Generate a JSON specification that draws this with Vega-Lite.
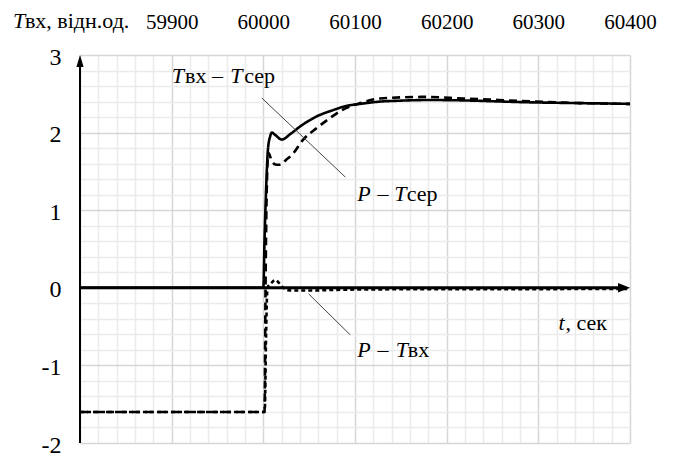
{
  "$schema": "https://vega.github.io/schema/vega-lite/v6.json",
  "width": 550,
  "height": 388,
  "autosize": {"type": "none"},
  "padding": {"left": 80, "top": 55, "right": 45, "bottom": 16},
  "background": "#ffffff",
  "config": {"view": {"stroke": null}, "font": "Liberation Serif"},
  "datasets": {
    "curves": [
      {"s": "Tвх – Tсер", "t": 59800, "v": 0},
      {"s": "Tвх – Tсер", "t": 60000, "v": 0},
      {"s": "Tвх – Tсер", "t": 60001.3, "v": 0.62},
      {"s": "Tвх – Tсер", "t": 60003, "v": 1.26},
      {"s": "Tвх – Tсер", "t": 60005, "v": 1.78},
      {"s": "Tвх – Tсер", "t": 60007.4, "v": 1.95},
      {"s": "Tвх – Tсер", "t": 60009.3, "v": 2.0},
      {"s": "Tвх – Tсер", "t": 60012.9, "v": 1.97},
      {"s": "Tвх – Tсер", "t": 60020.2, "v": 1.91},
      {"s": "Tвх – Tсер", "t": 60029.3, "v": 1.98},
      {"s": "Tвх – Tсер", "t": 60040.2, "v": 2.08},
      {"s": "Tвх – Tсер", "t": 60058.4, "v": 2.21},
      {"s": "Tвх – Tсер", "t": 60076.2, "v": 2.29},
      {"s": "Tвх – Tсер", "t": 60089.3, "v": 2.34},
      {"s": "Tвх – Tсер", "t": 60105.7, "v": 2.37},
      {"s": "Tвх – Tсер", "t": 60127.6, "v": 2.4},
      {"s": "Tвх – Tсер", "t": 60146, "v": 2.41},
      {"s": "Tвх – Tсер", "t": 60182, "v": 2.42},
      {"s": "Tвх – Tсер", "t": 60218, "v": 2.415},
      {"s": "Tвх – Tсер", "t": 60260, "v": 2.4},
      {"s": "Tвх – Tсер", "t": 60291, "v": 2.39},
      {"s": "Tвх – Tсер", "t": 60346, "v": 2.38},
      {"s": "Tвх – Tсер", "t": 60400, "v": 2.37},

      {"s": "P – Tсер", "t": 59800, "v": -1.6},
      {"s": "P – Tсер", "t": 60001.3, "v": -1.6},
      {"s": "P – Tсер", "t": 60002.4, "v": 0},
      {"s": "P – Tсер", "t": 60003.5, "v": 1.13},
      {"s": "P – Tсер", "t": 60005.5, "v": 1.74},
      {"s": "P – Tсер", "t": 60009, "v": 1.64},
      {"s": "P – Tсер", "t": 60013, "v": 1.59},
      {"s": "P – Tсер", "t": 60018.4, "v": 1.585},
      {"s": "P – Tсер", "t": 60025, "v": 1.65},
      {"s": "P – Tсер", "t": 60031, "v": 1.71},
      {"s": "P – Tсер", "t": 60043.5, "v": 1.91},
      {"s": "P – Tсер", "t": 60058.4, "v": 2.06},
      {"s": "P – Tсер", "t": 60073, "v": 2.19},
      {"s": "P – Tсер", "t": 60085.7, "v": 2.29},
      {"s": "P – Tсер", "t": 60105.7, "v": 2.38},
      {"s": "P – Tсер", "t": 60127.6, "v": 2.44},
      {"s": "P – Tсер", "t": 60174.5, "v": 2.46},
      {"s": "P – Tсер", "t": 60218, "v": 2.44},
      {"s": "P – Tсер", "t": 60277, "v": 2.41},
      {"s": "P – Tсер", "t": 60346, "v": 2.38},
      {"s": "P – Tсер", "t": 60400, "v": 2.37},

      {"s": "P – Tвх", "t": 59800, "v": -1.6},
      {"s": "P – Tвх", "t": 60001.5, "v": -1.6},
      {"s": "P – Tвх", "t": 60003, "v": -0.6},
      {"s": "P – Tвх", "t": 60004.5, "v": 0},
      {"s": "P – Tвх", "t": 60008.6, "v": 0.06},
      {"s": "P – Tвх", "t": 60012.9, "v": 0.1},
      {"s": "P – Tвх", "t": 60017.3, "v": 0.06},
      {"s": "P – Tвх", "t": 60021.7, "v": 0},
      {"s": "P – Tвх", "t": 60027, "v": -0.03},
      {"s": "P – Tвх", "t": 60032.6, "v": -0.035},
      {"s": "P – Tвх", "t": 60051, "v": -0.035},
      {"s": "P – Tвх", "t": 60084, "v": -0.025},
      {"s": "P – Tвх", "t": 60127, "v": -0.02},
      {"s": "P – Tвх", "t": 60200, "v": -0.018},
      {"s": "P – Tвх", "t": 60400, "v": -0.016}
    ],
    "leaders": [
      {"t": 59998.4, "v": 2.445, "t2": 60089.4, "v2": 1.427},
      {"t": 60049.3, "v": -0.077, "t2": 60094.8, "v2": -0.606}
    ],
    "italicText": [
      {"t": 59900.1, "v": 2.638, "text": "T"},
      {"t": 59963.8, "v": 2.638, "text": "T"},
      {"t": 60102.5, "v": 1.121, "text": "P"},
      {"t": 60142.9, "v": 1.121, "text": "T"},
      {"t": 60102.5, "v": -0.893, "text": "P"},
      {"t": 60144.5, "v": -0.893, "text": "T"},
      {"t": 60321.9, "v": -0.541, "text": "t"}
    ],
    "uprightText": [
      {"t": 59914.6, "v": 2.638, "text": "вх –"},
      {"t": 59979.1, "v": 2.638, "text": "сер"},
      {"t": 60124.5, "v": 1.121, "text": "–"},
      {"t": 60156.5, "v": 1.121, "text": "сер"},
      {"t": 60124.5, "v": -0.893, "text": "–"},
      {"t": 60157.6, "v": -0.893, "text": "вх"},
      {"t": 60329.6, "v": -0.541, "text": ", сек"}
    ],
    "headerItalic": [{"t": 59726.8, "v": 3.351, "text": "T"}],
    "headerUpright": [{"t": 59739.9, "v": 3.351, "text": "вх, відн.од."}]
  },
  "layer": [
    {
      "data": {"name": "curves"},
      "mark": {"type": "line", "interpolate": "monotone", "strokeWidth": 2.6, "color": "#000000", "strokeCap": "butt"},
      "encoding": {
        "x": {
          "field": "t", "type": "quantitative",
          "scale": {"domain": [59800, 60400], "nice": false, "zero": false},
          "axis": {
            "orient": "top",
            "values": [59800, 59820, 59840, 59860, 59880, 59900, 59920, 59940, 59960, 59980, 60000, 60020, 60040, 60060, 60080, 60100, 60120, 60140, 60160, 60180, 60200, 60220, 60240, 60260, 60280, 60300, 60320, 60340, 60360, 60380, 60400],
            "tickCount": 200,
            "grid": true,
            "gridColor": {"condition": {"test": "datum.value % 100 === 0", "value": "#d6d6d6"}, "value": "#ebebeb"},
            "gridWidth": 1.5,
            "domain": false,
            "ticks": false,
            "tickSize": 0,
            "labelExpr": "datum.value % 100 === 0 && datum.value > 59800 ? toString(datum.value) : ''",
            "labelFont": "Liberation Serif",
            "labelFontSize": 21,
            "labelColor": "#000000",
            "labelPadding": 27,
            "labelBaseline": "alphabetic",
            "labelFlush": false,
            "labelOverlap": false,
            "title": null
          }
        },
        "y": {
          "field": "v", "type": "quantitative",
          "scale": {"domain": [-2, 3], "nice": false, "zero": false},
          "axis": {
            "values": [-2, -1.8, -1.6, -1.4, -1.2, -1, -0.8, -0.6, -0.4, -0.2, 0, 0.2, 0.4, 0.6, 0.8, 1, 1.2, 1.4, 1.6, 1.8, 2, 2.2, 2.4, 2.6, 2.8, 3],
            "tickCount": 200,
            "grid": true,
            "gridColor": {"condition": {"test": "abs(datum.value - round(datum.value)) < 0.001", "value": "#d6d6d6"}, "value": "#ebebeb"},
            "gridWidth": 1.5,
            "domain": false,
            "ticks": false,
            "tickSize": 0,
            "labelExpr": "abs(datum.value - round(datum.value)) < 0.001 ? toString(round(datum.value)) : ''",
            "labelFont": "Liberation Serif",
            "labelFontSize": 24,
            "labelColor": "#000000",
            "labelPadding": 19,
            "labelOffset": 2,
            "labelFlush": false,
            "labelOverlap": false,
            "title": null
          }
        },
        "strokeDash": {
          "field": "s", "type": "nominal",
          "scale": {"domain": ["Tвх – Tсер", "P – Tсер", "P – Tвх"], "range": [[1, 0], [8, 5], [4, 3]]},
          "legend": null
        }
      }
    },
    {
      "data": {"values": [{}]},
      "mark": {"type": "rule", "color": "#000000", "strokeWidth": 3},
      "encoding": {"y": {"datum": 0}, "x": {"datum": 59800}, "x2": {"datum": 60392}}
    },
    {
      "data": {"values": [{}]},
      "mark": {"type": "rule", "color": "#000000", "strokeWidth": 2},
      "encoding": {"x": {"datum": 59800}, "y": {"datum": -2}, "y2": {"datum": 2.95}}
    },
    {
      "data": {"values": [{}]},
      "mark": {"type": "point", "shape": "M0,0 L-1,-0.4 L-1,0.4 Z", "size": 576, "filled": true, "color": "#000000", "opacity": 1, "strokeWidth": 0},
      "encoding": {"x": {"datum": 60400}, "y": {"datum": 0}}
    },
    {
      "data": {"values": [{}]},
      "mark": {"type": "point", "shape": "M0,0 L-0.3,1 L0.3,1 Z", "size": 576, "filled": true, "color": "#000000", "opacity": 1, "strokeWidth": 0},
      "encoding": {"x": {"datum": 59800}, "y": {"datum": 3}}
    },
    {
      "data": {"name": "leaders"},
      "mark": {"type": "rule", "color": "#444444", "strokeWidth": 1},
      "encoding": {
        "x": {"field": "t", "type": "quantitative"},
        "y": {"field": "v", "type": "quantitative"},
        "x2": {"field": "t2"},
        "y2": {"field": "v2"}
      }
    },
    {
      "data": {"name": "italicText"},
      "mark": {"type": "text", "font": "Liberation Serif", "fontSize": 22, "fontStyle": "italic", "align": "left", "baseline": "alphabetic", "color": "#000000"},
      "encoding": {
        "x": {"field": "t", "type": "quantitative"},
        "y": {"field": "v", "type": "quantitative"},
        "text": {"field": "text"}
      }
    },
    {
      "data": {"name": "uprightText"},
      "mark": {"type": "text", "font": "Liberation Serif", "fontSize": 22, "align": "left", "baseline": "alphabetic", "color": "#000000"},
      "encoding": {
        "x": {"field": "t", "type": "quantitative"},
        "y": {"field": "v", "type": "quantitative"},
        "text": {"field": "text"}
      }
    },
    {
      "data": {"name": "headerItalic"},
      "mark": {"type": "text", "font": "Liberation Serif", "fontSize": 22, "fontStyle": "italic", "align": "left", "baseline": "alphabetic", "color": "#000000"},
      "encoding": {
        "x": {"field": "t", "type": "quantitative"},
        "y": {"field": "v", "type": "quantitative"},
        "text": {"field": "text"}
      }
    },
    {
      "data": {"name": "headerUpright"},
      "mark": {"type": "text", "font": "Liberation Serif", "fontSize": 22, "align": "left", "baseline": "alphabetic", "color": "#000000"},
      "encoding": {
        "x": {"field": "t", "type": "quantitative"},
        "y": {"field": "v", "type": "quantitative"},
        "text": {"field": "text"}
      }
    }
  ]
}
